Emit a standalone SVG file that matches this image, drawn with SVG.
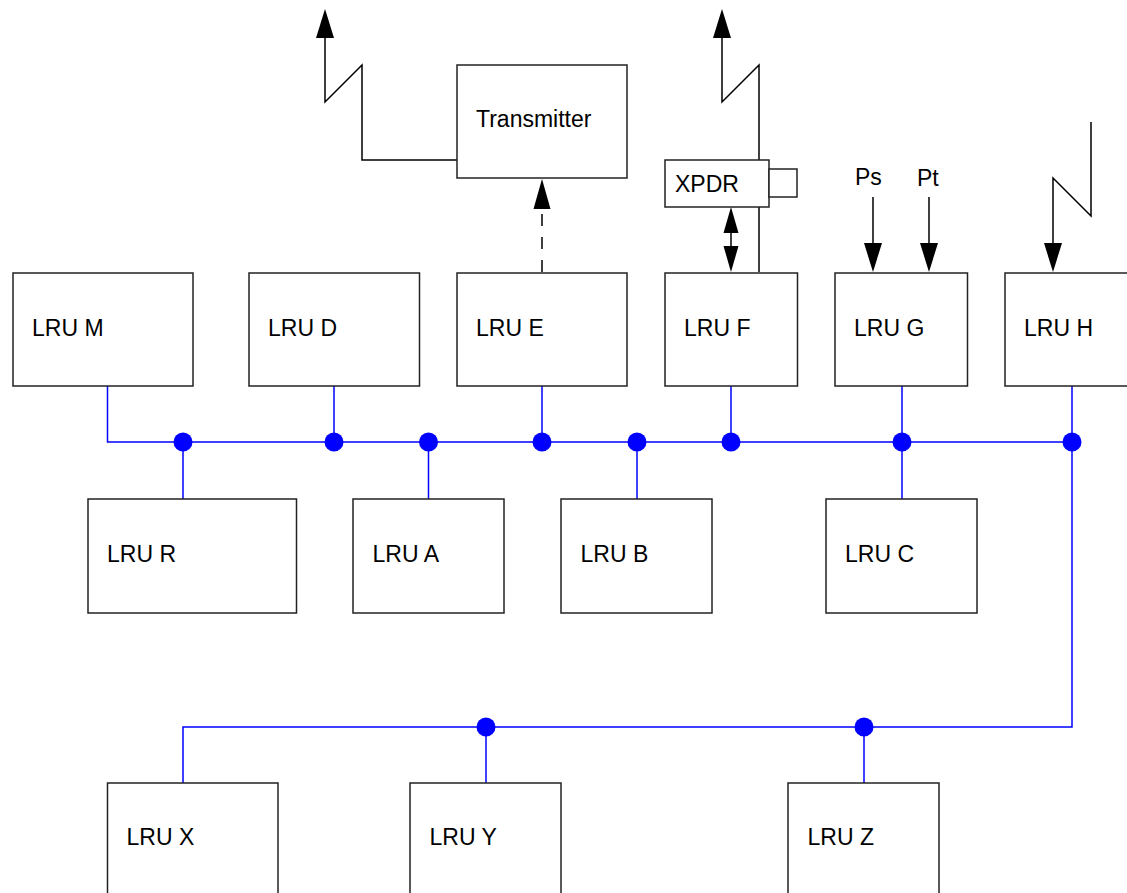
<svg xmlns="http://www.w3.org/2000/svg" width="1127" height="893" viewBox="0 0 1127 893">
<style>
  .box { fill: #ffffff; stroke: #222222; stroke-width: 1.5; }
  .lbl { font-family: "Liberation Sans", Arial, sans-serif; font-size: 23px; fill: #000000; }
  .wire { fill: none; stroke: #000000; stroke-width: 1.5; }
  .dash { fill: none; stroke: #000000; stroke-width: 1.5; stroke-dasharray: 12 11; }
  .bus { fill: none; stroke: #0000ff; stroke-width: 1.5; }
  .dot { fill: #0000ff; }
  .head { fill: #000000; }
</style>
<rect x="0" y="0" width="1127" height="893" fill="#ffffff"/>
<g id="connectors">
  <!-- antenna from Transmitter -->
  <path class="wire" d="M325,36 L325,102 L362,65 L362,160 L457,160"/>
  <polygon class="head" points="325,9 316,38 334,38"/>
  <!-- LRU E to Transmitter (dashed) -->
  <path class="dash" d="M542,272 L542,207"/>
  <polygon class="head" points="542,179 533.5,209 550.5,209"/>
  <!-- antenna from LRU F through XPDR -->
  <path class="wire" d="M722,36 L722,102 L759,65 L759,272"/>
  <polygon class="head" points="722,9 713,38 731,38"/>
  <!-- XPDR <-> LRU F -->
  <path class="wire" d="M731,232 L731,247"/>
  <polygon class="head" points="731,207 723.5,233 738.5,233"/>
  <polygon class="head" points="731,272 723.5,246 738.5,246"/>
  <!-- Ps, Pt -->
  <path class="wire" d="M873,197 L873,245"/>
  <polygon class="head" points="873,272 864,243 882,243"/>
  <path class="wire" d="M929,197 L929,245"/>
  <polygon class="head" points="929,272 920,243 938,243"/>
  <!-- antenna into LRU H -->
  <path class="wire" d="M1091,122 L1091,216 L1053,178 L1053,245"/>
  <polygon class="head" points="1053,272 1044,243 1062,243"/>
  <!-- main bus -->
  <path class="bus" d="M107.5,386 L107.5,442 L1072,442"/>
  <path class="bus" d="M183,442 L183,499"/>
  <path class="bus" d="M334,386 L334,442"/>
  <path class="bus" d="M428.5,442 L428.5,499"/>
  <path class="bus" d="M542,386 L542,442"/>
  <path class="bus" d="M637,442 L637,499"/>
  <path class="bus" d="M731,386 L731,442"/>
  <path class="bus" d="M902,386 L902,499"/>
  <path class="bus" d="M1072,386 L1072,727 L183,727 L183,783"/>
  <path class="bus" d="M486,727 L486,783"/>
  <path class="bus" d="M864,727 L864,783"/>
  <circle class="dot" cx="183" cy="442" r="9.5"/>
  <circle class="dot" cx="334" cy="442" r="9.5"/>
  <circle class="dot" cx="428.5" cy="442" r="9.5"/>
  <circle class="dot" cx="542" cy="442" r="9.5"/>
  <circle class="dot" cx="637" cy="442" r="9.5"/>
  <circle class="dot" cx="731" cy="442" r="9.5"/>
  <circle class="dot" cx="902" cy="442" r="9.5"/>
  <circle class="dot" cx="1072" cy="442" r="9.5"/>
  <circle class="dot" cx="486" cy="727" r="9.5"/>
  <circle class="dot" cx="864" cy="727" r="9.5"/>
</g>
<g id="transmitter">
  <rect class="box" x="457" y="65" width="170" height="113"/>
  <text class="lbl" x="476" y="127">Transmitter</text>
</g>
<g id="xpdr">
  <rect class="box" x="665" y="160" width="104" height="47"/>
  <rect class="box" x="769" y="169" width="28" height="28"/>
  <text class="lbl" x="675" y="192">XPDR</text>
</g>
<g id="ps"><text class="lbl" x="855" y="185">Ps</text></g>
<g id="pt"><text class="lbl" x="917" y="186">Pt</text></g>
<g id="lru-m"><rect class="box" x="13" y="273" width="180" height="113"/><text class="lbl" x="32" y="335.5">LRU M</text></g>
<g id="lru-d"><rect class="box" x="249" y="273" width="170.5" height="113"/><text class="lbl" x="268" y="335.5">LRU D</text></g>
<g id="lru-e"><rect class="box" x="457" y="273" width="170" height="113"/><text class="lbl" x="476" y="335.5">LRU E</text></g>
<g id="lru-f"><rect class="box" x="665" y="273" width="132.5" height="113"/><text class="lbl" x="684" y="335.5">LRU F</text></g>
<g id="lru-g"><rect class="box" x="835" y="273" width="132.5" height="113"/><text class="lbl" x="854" y="335.5">LRU G</text></g>
<g id="lru-h"><rect class="box" x="1005" y="273" width="135" height="113"/><text class="lbl" x="1024" y="335.5">LRU H</text></g>
<g id="lru-r"><rect class="box" x="88" y="499" width="208.5" height="114"/><text class="lbl" x="107" y="562">LRU R</text></g>
<g id="lru-a"><rect class="box" x="353" y="499" width="151" height="114"/><text class="lbl" x="372.5" y="562">LRU A</text></g>
<g id="lru-b"><rect class="box" x="561" y="499" width="151" height="114"/><text class="lbl" x="580.5" y="562">LRU B</text></g>
<g id="lru-c"><rect class="box" x="826" y="499" width="151" height="114"/><text class="lbl" x="845" y="562">LRU C</text></g>
<g id="lru-x"><rect class="box" x="107.5" y="783" width="170.5" height="114"/><text class="lbl" x="126.5" y="845">LRU X</text></g>
<g id="lru-y"><rect class="box" x="410" y="783" width="151" height="114"/><text class="lbl" x="429.5" y="845">LRU Y</text></g>
<g id="lru-z"><rect class="box" x="788" y="783" width="151" height="114"/><text class="lbl" x="807.5" y="845">LRU Z</text></g>
</svg>
